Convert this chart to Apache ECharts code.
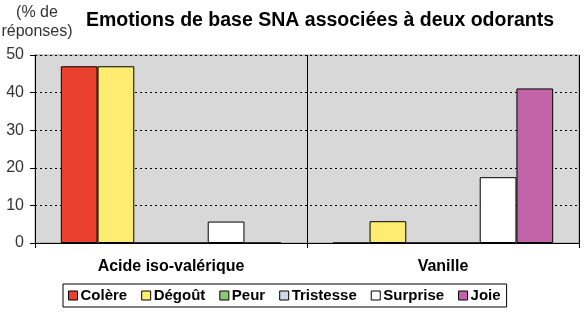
<!DOCTYPE html>
<html>
<head>
<meta charset="utf-8">
<script src="https://cdn.jsdelivr.net/npm/echarts@6/dist/echarts.min.js"></script>
<style>
  html, body { margin: 0; padding: 0; background: #fff; }
  #chart { width: 584px; height: 316px; }
</style>
</head>
<body>
<div id="chart"></div>
<script>
var odorants = ['Acide iso-valérique', 'Vanille'];
var colere = [47, 0];
var degout = [47, 5.8];
var peur = [0, 0];
var tristesse = [0, 0];
var surprise = [5.7, 17.5];
var joie = [0, 41.1];
var yTicks = [0, 50, 10]; // min, max, interval

var font = '"Liberation Sans", Arial, sans-serif';

function bar(name, data, color) {
    return {
        name: name,
        type: 'bar',
        data: data,
        barGap: '0%',
        barCategoryGap: '19%',
        itemStyle: {
            color: color,
            borderColor: '#000',
            borderWidth: 1
        }
    };
}

var chart = echarts.init(document.getElementById('chart'), null, { renderer: 'canvas' });

var option = {
    animation: false,
    textStyle: { fontFamily: font },
    title: {
        text: 'Emotions de base SNA associées à deux odorants',
        left: 315,
        textAlign: 'center',
        top: 6,
        textStyle: { fontFamily: font, fontSize: 19.5, fontWeight: 'bold', color: '#000' }
    },
    graphic: [{
        type: 'text',
        x: 37,
        y: 3,
        style: {
            text: '(% de\nréponses)',
            align: 'center',
            verticalAlign: 'top',
            fill: '#333',
            font: '16px ' + font,
            lineHeight: 19
        }
    }],
    grid: {
        left: 35,
        right: 5,
        top: 55,
        bottom: 73,
        show: true,
        backgroundColor: '#D8D8D8',
        borderColor: '#999',
        borderWidth: 1
    },
    legend: {
        left: 63,
        top: 284,
        itemWidth: 9,
        itemHeight: 9,
        itemGap: 14,
        padding: [4, 6, 4, 5],
        borderColor: '#000',
        borderWidth: 1,
        icon: 'rect',
        itemStyle: { borderColor: '#000', borderWidth: 1 },
        textStyle: { fontFamily: font, fontSize: 15, fontWeight: 'bold', color: '#000', padding: [0, 0, 0, -2] },
        data: ['Colère', 'Dégoût', 'Peur', 'Tristesse', 'Surprise', 'Joie']
    },
    xAxis: {
        type: 'category',
        data: odorants,
        boundaryGap: true,
        axisLine: { lineStyle: { color: '#000', width: 1 } },
        axisTick: { show: true, length: 5, lineStyle: { color: '#000' } },
        axisLabel: { fontFamily: font, fontSize: 16, fontWeight: 'bold', color: '#000', margin: 16 },
        splitLine: { show: true, lineStyle: { color: '#000', width: 1 } }
    },
    yAxis: {
        type: 'value',
        min: yTicks[0],
        max: yTicks[1],
        interval: yTicks[2],
        axisLine: { show: true, lineStyle: { color: '#000', width: 1 } },
        axisTick: { show: true, length: 5, lineStyle: { color: '#000' } },
        axisLabel: { fontFamily: font, fontSize: 16, color: '#333', margin: 11 },
        splitLine: { show: true, lineStyle: { color: '#000', type: [2, 3], width: 1 } }
    },
    series: [
        bar('Colère', colere, '#EA402F'),
        bar('Dégoût', degout, '#FFEC70'),
        bar('Peur', peur, '#8DC878'),
        bar('Tristesse', tristesse, '#D0D8EA'),
        bar('Surprise', surprise, '#FFFFFF'),
        bar('Joie', joie, '#C464A8')
    ]
};

chart.setOption(option);
</script>
</body>
</html>
